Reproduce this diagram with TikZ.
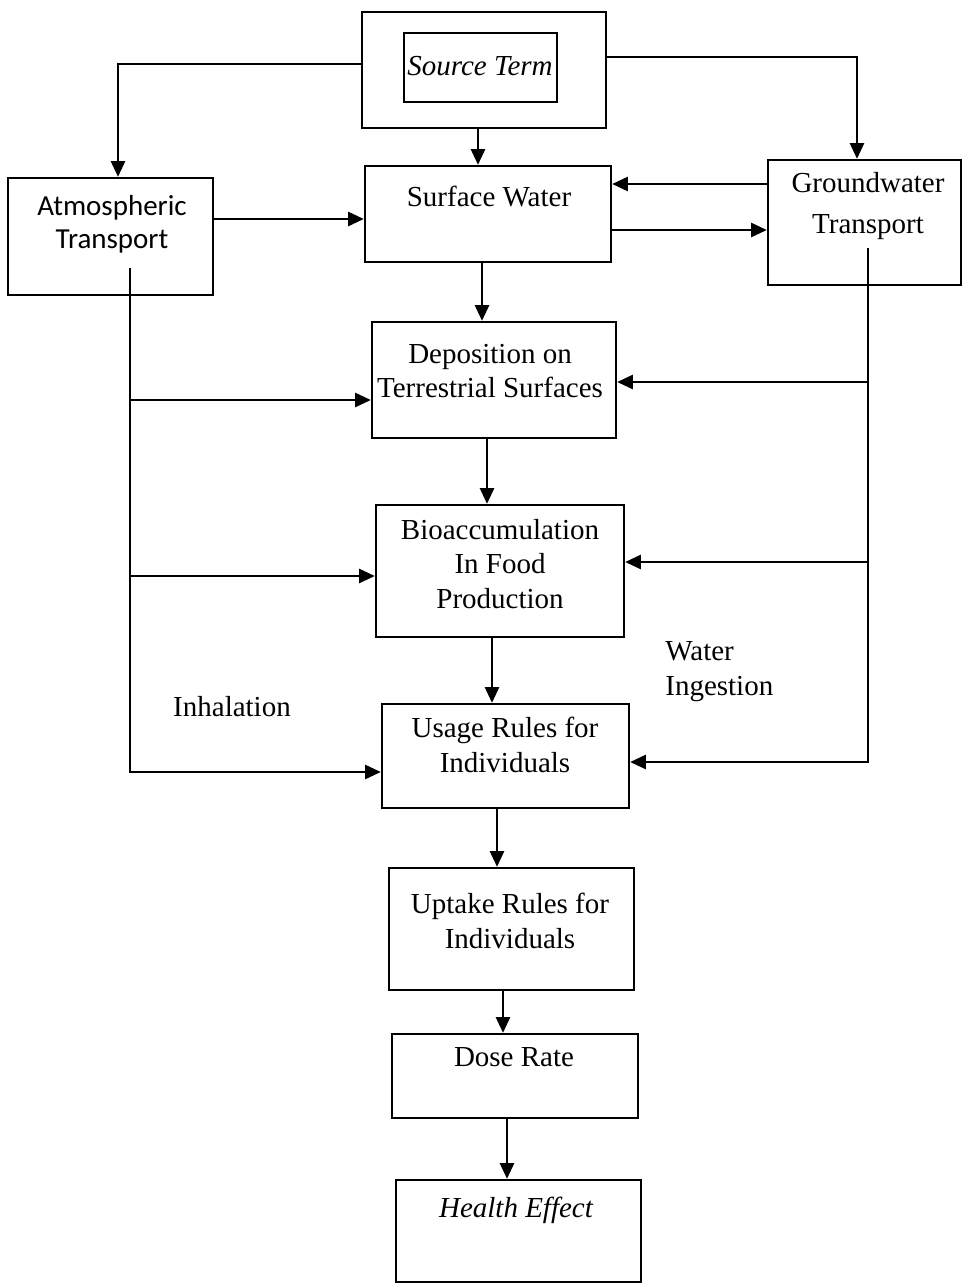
\documentclass[tikz,border=0pt]{standalone}
\usepackage{fontspec}
\setmainfont{Liberation Serif}
\newfontfamily\atmofont{Carlito}
\usetikzlibrary{arrows.meta}
\newcommand{\lblsize}{\fontsize{16.5}{19.8}\selectfont}

\begin{document}
\begin{tikzpicture}[x=0.02cm, y=-0.02cm, font=\lblsize,
	box/.style 2 args={draw, line width=1.3pt, inner sep=0pt,
		minimum width=#1*0.02cm, minimum height=#2*0.02cm},
	txt/.style={align=center, inner sep=0pt},
	arr/.style={-{Triangle[length=9pt,width=8pt]}, line width=1.5pt}]
	\useasboundingbox (0,0) rectangle (962,1285);

	% boxes
	\node[box={244}{116}] (srcout) at (484,70) {};
	\node[box={153}{69}]  (src)    at (480.5,67.5) {};
	\node[box={205}{117}] (atmo)   at (110.5,236.5) {};
	\node[box={246}{96}]  (surf)   at (488,214) {};
	\node[box={193}{125}] (ground) at (864.5,222.5) {};
	\node[box={244}{116}] (depo)   at (494,380) {};
	\node[box={248}{132}] (bio)    at (500,571) {};
	\node[box={247}{104}] (usage)  at (505.5,756) {};
	\node[box={245}{122}] (uptake) at (511.5,929) {};
	\node[box={246}{84}]  (dose)   at (515,1076) {};
	\node[box={245}{102}] (health) at (518.5,1231) {};

	% texts
	\node[txt] (src-t)    at (480,66)  {\itshape Source Term};
	\node[txt, font=\lblsize\atmofont] (atmo-t) at (112,224)
		{Atmospheric\\[-1pt] Transport};
	\node[txt] (surf-t)   at (489,197) {Surface Water};
	\node[txt] (ground-t) at (868,206) {Groundwater\\[3pt] Transport};
	\node[txt] (depo-t)   at (490,371) {Deposition on\\ Terrestrial Surfaces};
	\node[txt] (bio-t)    at (500,564) {Bioaccumulation\\ In Food\\ Production};
	\node[txt] (usage-t)  at (505,745) {Usage Rules for\\ Individuals};
	\node[txt] (uptake-t) at (510,921) {Uptake Rules for\\ Individuals};
	\node[txt] (dose-t)   at (514,1057) {Dose Rate};
	\node[txt] (health-t) at (516,1210) {\itshape Health Effect};
	\node[txt] (inhal)    at (232,707) {Inhalation};
	\node[txt, align=left, anchor=west] (water) at (665,672) {Water\\ Ingestion};

	% source term outputs
	\draw[arr] (srcout.west |- 0,64) -| (atmo.north -| 118,0);
	\draw[arr] (srcout.east |- 0,57) -| (ground.north -| 857,0);
	\draw[arr] (srcout.south -| 478,0) -- (surf.north -| 478,0);

	% surface water links
	\draw[arr] (atmo.east |- 0,219) -- (surf.west |- 0,219);
	\draw[arr] (ground.west |- 0,184) -- (surf.east |- 0,184);
	\draw[arr] (surf.east |- 0,230) -- (ground.west |- 0,230);

	% main chain
	\draw[arr] (surf.south -| 482,0) -- (depo.north -| 482,0);
	\draw[arr] (depo.south -| 487,0) -- (bio.north -| 487,0);
	\draw[arr] (bio.south -| 492,0) -- (usage.north -| 492,0);
	\draw[arr] (usage.south -| 497,0) -- (uptake.north -| 497,0);
	\draw[arr] (uptake.south -| 503,0) -- (dose.north -| 503,0);
	\draw[arr] (dose.south -| 507,0) -- (health.north -| 507,0);

	% atmospheric trunk
	\coordinate (atmo-in) at (130,268);
	\coordinate (atmo-d)  at (130,400);
	\coordinate (atmo-b)  at (130,576);
	\draw[arr] (atmo-in) |- (usage.west |- 0,772);
	\draw[arr] (atmo-d) -- (depo.west |- atmo-d);
	\draw[arr] (atmo-b) -- (bio.west |- atmo-b);

	% groundwater trunk
	\coordinate (gw-in) at (868,248);
	\coordinate (gw-d)  at (868,382);
	\coordinate (gw-b)  at (868,562);
	\draw[arr] (gw-in) |- (usage.east |- 0,762);
	\draw[arr] (gw-d) -- (depo.east |- gw-d);
	\draw[arr] (gw-b) -- (bio.east |- gw-b);
\end{tikzpicture}
\end{document}
